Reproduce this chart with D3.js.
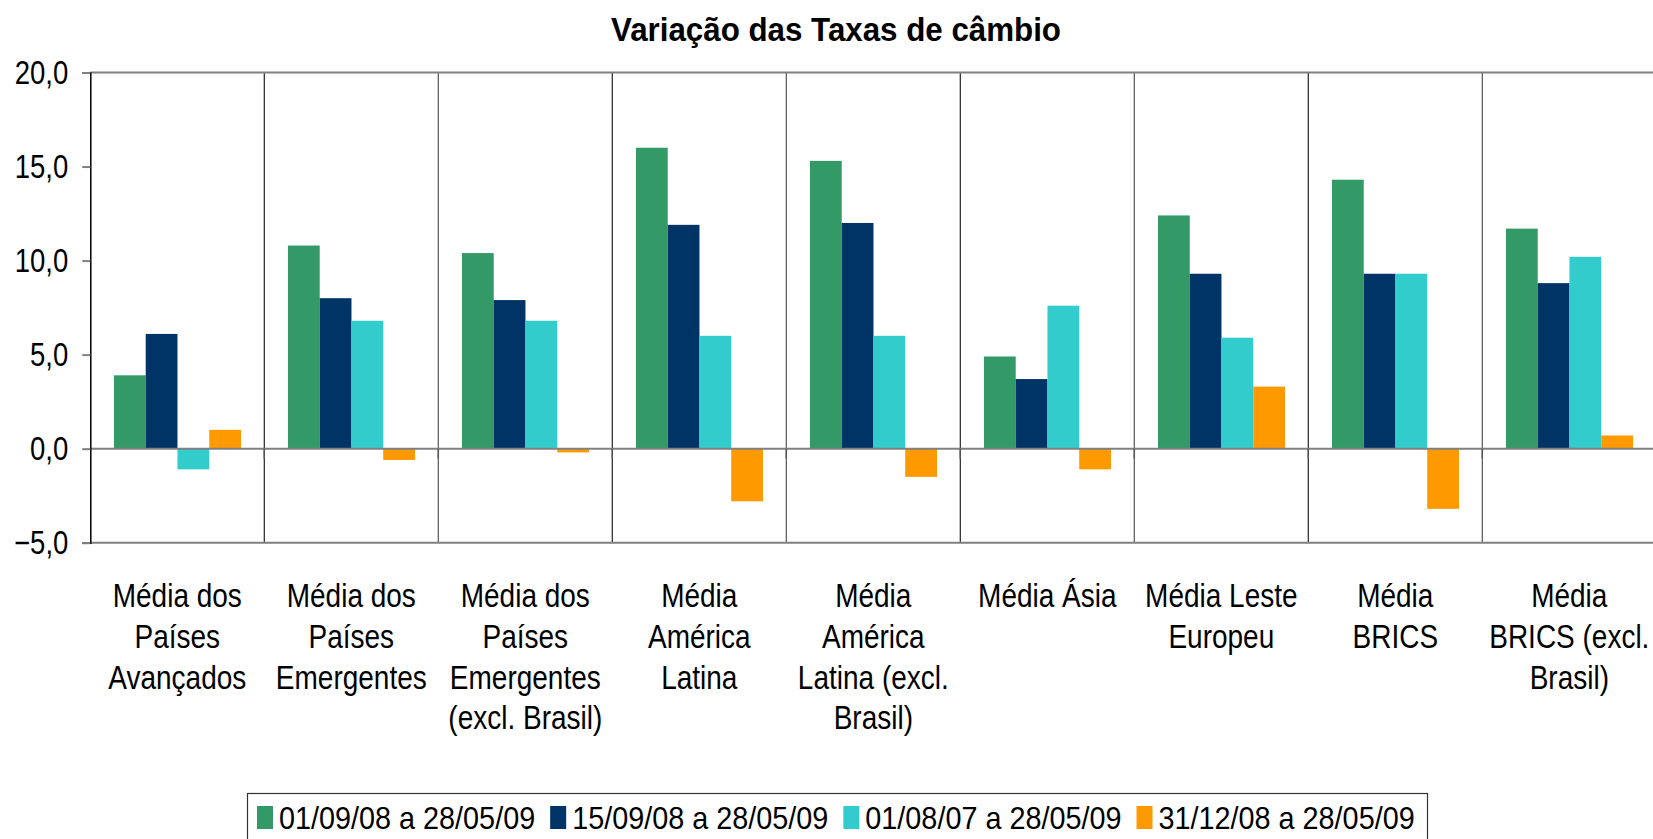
<!DOCTYPE html>
<html>
<head>
<meta charset="utf-8">
<script src="https://cdn.jsdelivr.net/npm/d3@7"></script>
<style>
  html, body { margin: 0; padding: 0; background: #fff; overflow: hidden; }
  svg { display: block; font-family: "Liberation Sans", Arial, sans-serif; }
</style>
</head>
<body>
<div id="chart"></div>
<script>
// categorias (quebras de linha como no original)
const categories = [
  ["Média dos", "Países", "Avançados"],
  ["Média dos", "Países", "Emergentes"],
  ["Média dos", "Países", "Emergentes", "(excl. Brasil)"],
  ["Média", "América", "Latina"],
  ["Média", "América", "Latina (excl.", "Brasil)"],
  ["Média Ásia"],
  ["Média Leste", "Europeu"],
  ["Média", "BRICS"],
  ["Média", "BRICS (excl.", "Brasil)"],
];
const seriesNames = [
  "01/09/08 a 28/05/09",
  "15/09/08 a 28/05/09",
  "01/08/07 a 28/05/09",
  "31/12/08 a 28/05/09",
];
const s1 = [3.9, 10.8, 10.4, 16.0, 15.3, 4.9, 12.4, 14.3, 11.7];
const s2 = [6.1, 8.0, 7.9, 11.9, 12.0, 3.7, 9.3, 9.3, 8.8];
const s3 = [-1.1, 6.8, 6.8, 6.0, 6.0, 7.6, 5.9, 9.3, 10.2];
const s4 = [1.0, -0.6, -0.2, -2.8, -1.5, -1.1, 3.3, -3.2, 0.7];
const yTicks = [-5, 0, 5, 10, 15, 20];
const colors = ["#339966", "#003366", "#33CCCC", "#FF9900"];

const W = 1653, H = 839;
const plot = { left: 90.3, top: 72.5, bottom: 542.7, bandW: 174 };
const stretch = 1.2; // o texto original é mais alto que largo

const svg = d3.select("#chart").append("svg")
  .attr("width", W).attr("height", H);

const keys = categories.map((d, i) => i);
const x0 = d3.scaleBand()
  .domain(keys)
  .range([plot.left, plot.left + plot.bandW * categories.length])
  .padding(0);
const x1 = d3.scaleBand()
  .domain(d3.range(seriesNames.length))
  .range([x0.bandwidth() * 0.136, x0.bandwidth() * 0.866]);
const y = d3.scaleLinear().domain([-5, 20]).range([plot.bottom, plot.top]);

const rows = keys.map(i => [s1[i], s2[i], s3[i], s4[i]]);

// título
svg.append("text")
  .attr("transform", "translate(836,41) scale(1,1.08)")
  .attr("text-anchor", "middle")
  .attr("textLength", 450)
  .attr("lengthAdjust", "spacingAndGlyphs")
  .style("font-size", "30px").style("font-weight", "bold")
  .text("Variação das Taxas de câmbio");

// linhas verticais entre categorias
svg.append("g")
  .selectAll("line")
  .data(keys.slice(1))
  .join("line")
  .attr("x1", d => x0(d)).attr("x2", d => x0(d))
  .attr("y1", plot.top).attr("y2", plot.bottom)
  .attr("stroke", (d, i) => i % 2 ? "#555" : "#222").attr("stroke-width", 1.2);

// bordas superior e inferior
[20, -5].forEach(v => {
  svg.append("line")
    .attr("x1", plot.left).attr("x2", W)
    .attr("y1", y(v)).attr("y2", y(v))
    .attr("stroke", "#808080").attr("stroke-width", 2);
});

// barras
svg.append("g")
  .selectAll("g")
  .data(rows)
  .join("g")
  .attr("transform", (d, i) => `translate(${x0(i)},0)`)
  .selectAll("rect")
  .data(d => d)
  .join("rect")
  .attr("x", (d, j) => x1(j))
  .attr("width", x1.bandwidth())
  .attr("y", d => y(Math.max(0, d)))
  .attr("height", d => Math.abs(y(d) - y(0)))
  .attr("fill", (d, j) => colors[j]);

// eixo zero
svg.append("line")
  .attr("x1", plot.left).attr("x2", W)
  .attr("y1", y(0)).attr("y2", y(0))
  .attr("stroke", "#808080").attr("stroke-width", 2);
svg.append("g")
  .selectAll("line")
  .data(keys.slice(1))
  .join("line")
  .attr("x1", d => x0(d)).attr("x2", d => x0(d))
  .attr("y1", y(0)).attr("y2", y(0) + 10)
  .attr("stroke", "#555").attr("stroke-width", 1.5);

// eixo y
const yAxis = svg.append("g")
  .attr("transform", `translate(${plot.left},0)`)
  .call(d3.axisLeft(y)
    .tickValues(yTicks)
    .tickSize(8)
    .tickPadding(14)
    .tickFormat(d => d3.format(".1f")(d).replace(".", ",")));
yAxis.select(".domain").attr("stroke", "#000").attr("stroke-width", 1.5);
yAxis.selectAll(".tick line").attr("stroke", "#808080").attr("stroke-width", 2);
yAxis.selectAll(".tick text")
  .attr("fill", "#000")
  .attr("transform", `scale(1,${stretch})`)
  .style("font-size", "27.5px")
  .style("font-family", "'Liberation Sans', Arial, sans-serif");

// rótulos das categorias (uma linha por elemento)
const catG = svg.append("g");
categories.forEach((lines, i) => {
  const cx = x0(i) + x0.bandwidth() / 2;
  catG.selectAll(null)
    .data(lines)
    .join("text")
    .attr("transform", (l, k) => `translate(${cx},${607 + k * 40.8}) scale(1,${stretch})`)
    .attr("text-anchor", "middle")
    .attr("fill", "#000")
    .style("font-size", "28px")
    .text(l => l);
});

// legenda
const legend = svg.append("g");
legend.append("rect")
  .attr("x", 247.5).attr("y", 793.5)
  .attr("width", 1180).attr("height", 60)
  .attr("fill", "#fff").attr("stroke", "#333").attr("stroke-width", 1.2);

let lx = 257;
seriesNames.forEach((name, j) => {
  legend.append("rect")
    .attr("x", lx).attr("y", 806)
    .attr("width", 16).attr("height", 23)
    .attr("fill", colors[j]);
  const t = legend.append("text")
    .attr("transform", `translate(${lx + 22},829) scale(1,1.1)`)
    .style("font-size", "28.8px")
    .text(name);
  lx += 22 + t.node().getComputedTextLength() + 15;
});
</script>
</body>
</html>
